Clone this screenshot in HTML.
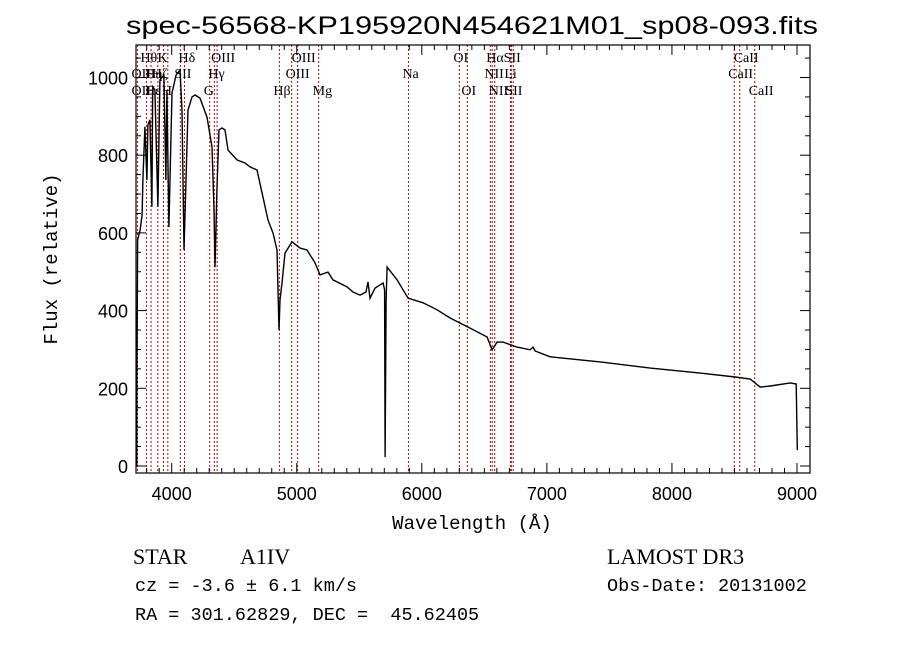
<!DOCTYPE html>
<html><head><meta charset="utf-8"><style>
html,body{margin:0;padding:0;background:#fff;width:900px;height:649px;overflow:hidden}
svg{display:block}
text{white-space:pre}
</style></head><body>
<svg id="chart" width="900" height="649" xmlns="http://www.w3.org/2000/svg">
<text x="472" y="34" text-anchor="middle" font-family="Liberation Sans, sans-serif" font-size="25" textLength="692" lengthAdjust="spacingAndGlyphs">spec-56568-KP195920N454621M01_sp08-093.fits</text>
<g id="lines"></g>
<g id="labels" font-family="Liberation Serif, serif" font-size="14"></g>
<path id="spec" fill="none" stroke="#000" stroke-width="1.4"/>
<rect x="136" y="45" width="674" height="428" fill="none" stroke="#000" stroke-width="1.2"/>
<g id="ticks" stroke="#000" stroke-width="1"></g>
<g id="ticklabels" font-family="Liberation Sans, sans-serif" font-size="18"></g>
<text x="472" y="529" text-anchor="middle" font-family="Liberation Mono, monospace" font-size="19">Wavelength (Å)</text>
<text transform="translate(57,259) rotate(-90)" text-anchor="middle" font-family="Liberation Mono, monospace" font-size="19">Flux (relative)</text>
<text x="133" y="564" font-family="Liberation Serif, serif" font-size="22">STAR</text>
<text x="240" y="564" font-family="Liberation Serif, serif" font-size="22">A1IV</text>
<text x="135" y="591" font-family="Liberation Mono, monospace" font-size="18.5" xml:space="preserve">cz = -3.6 ± 6.1 km/s</text>
<text x="135" y="620" font-family="Liberation Mono, monospace" font-size="18.5" xml:space="preserve">RA = 301.62829, DEC =  45.62405</text>
<text x="607" y="564" font-family="Liberation Serif, serif" font-size="22">LAMOST DR3</text>
<text x="607" y="591" font-family="Liberation Mono, monospace" font-size="18.5">Obs-Date: 20131002</text>
</svg>
<script>
const wavelengths=[3719,3722,3727,3747,3763,3770,3786,3802,3810,3826,3842,3848,3866,3890,3906,3938,3954,3962,3978,4002,4034,4066,4082,4098,4114,4130,4162,4186,4226,4282,4322,4338,4346,4362,4378,4402,4426,4450,4522,4586,4626,4682,4730,4770,4810,4842,4858,4866,4882,4906,4962,5026,5082,5146,5186,5250,5290,5402,5450,5506,5554,5570,5586,5626,5690,5702,5706,5714,5722,5802,5890,6010,6122,6226,6386,6522,6562,6602,6650,6762,6866,6890,6906,7026,7426,7826,8226,8506,8626,8706,8786,8946,8994,9002];
const fluxes=[0,221,582,607,646,736,873,736,878,891,667,976,968,667,994,1006,736,968,615,960,1006,1019,916,556,736,916,950,955,947,898,821,659,512,718,865,870,865,813,788,780,770,762,692,633,600,556,350,427,471,548,577,561,556,523,492,499,479,461,448,440,448,474,432,458,471,453,23,427,512,479,432,420,402,381,355,332,299,319,319,306,299,306,296,281,268,252,239,229,224,203,206,214,211,41];
const lineWaves=[3727,3798,3835,3889,3934,3969,4069,4102,4304,4341,4363,4861,4959,5007,5175,5893,6300,6364,6548,6563,6583,6708,6716,6731,8498,8542,8662];
const labelTexts=["Hθ","K","Hδ","OIII","OIII","OI","HαSII","CaII","OII","Hη","Hζ","SII","Hγ","OIII","Na","NII","Li","CaII","OII","Hε","H","G","Hβ","Mg","OI","NII","SII","CaII"];
const labelWaves=[3798,3934,4102,4363,5007,6300,6563,8542,3727,3835,3889,4069,4341,4959,5893,6548,6708,8498,3727,3835,3969,4304,4861,5175,6364,6583,6716,8662];
const labelRows=[0,0,0,0,0,0,0,0,1,1,1,1,1,1,1,1,1,1,2,2,2,2,2,2,2,2,2,2];
const xTicks=[4000,5000,6000,7000,8000,9000];
const yTicks=[0,200,400,600,800,1000];
const NS='http://www.w3.org/2000/svg';
const X=l=>171.7+(l-4000)*0.12506;
const Y=f=>466-f*0.3885;
function mk(tag,parent,attrs){const e=document.createElementNS(NS,tag);for(const k in attrs)e.setAttribute(k,attrs[k]);parent.appendChild(e);return e;}
const lg=document.getElementById('lines');
lineWaves.forEach(w=>{const e=mk('line',lg,{x1:X(w),x2:X(w),y1:45,y2:473,stroke:'#c00000','stroke-width':1,'stroke-dasharray':'2,2'});

});
const lb=document.getElementById('labels');
const rowY=[62,78,95];
labelTexts.forEach((t,i)=>{const e=mk('text',lb,{x:X(labelWaves[i])-6,y:rowY[labelRows[i]]});e.textContent=t;

});
document.getElementById('spec').setAttribute('d',wavelengths.map((w,i)=>(i?'L':'M')+X(w).toFixed(1)+','+Y(fluxes[i]).toFixed(1)).join(''));
const tg=document.getElementById('ticks'),tl=document.getElementById('ticklabels');
for(let w=3800;w<=9000;w+=100){const maj=w%1000===0,L=maj?10:5;
mk('line',tg,{x1:X(w),x2:X(w),y1:473,y2:473-L});mk('line',tg,{x1:X(w),x2:X(w),y1:45,y2:45+L});}
for(let f=0;f<=1050;f+=50){const maj=f%200===0,L=maj?10:5;
mk('line',tg,{x1:136,x2:136+L,y1:Y(f),y2:Y(f)});mk('line',tg,{x1:810,x2:810-L,y1:Y(f),y2:Y(f)});}
xTicks.forEach(w=>{const e=mk('text',tl,{x:X(w),y:500,'text-anchor':'middle'});e.textContent=w;

});
yTicks.forEach(f=>{const e=mk('text',tl,{x:128,y:Y(f)+7,'text-anchor':'end'});e.textContent=f;

});
mk('line',lg,{x1:136.5,x2:136.5,y1:466,y2:375,stroke:'#000','stroke-width':2});
</script>
</body></html>
